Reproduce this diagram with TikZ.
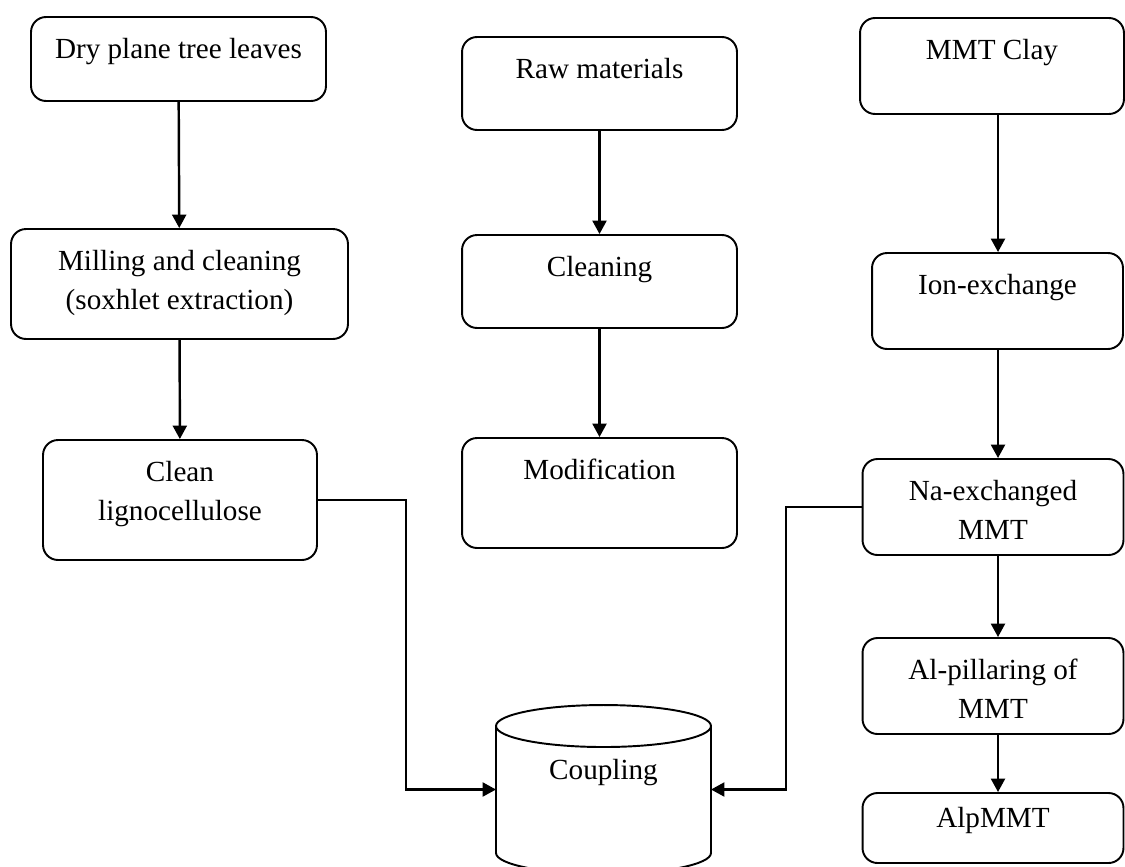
\documentclass[tikz,border=0pt]{standalone}
\usepackage{fontspec}
\setmainfont{Liberation Serif}
\usetikzlibrary{arrows.meta,positioning,shapes.geometric}

\begin{document}
\begin{tikzpicture}[
    x=0.02cm, y=-0.02cm,
    font=\fontsize{16.6}{22.2}\selectfont,
    box/.style={draw, line width=1.1pt, rounded corners=0.3cm},
    txt/.style={label={[anchor=north, inner sep=0pt, yshift=-0.44cm, align=center]north:#1}},
    arr/.style={line width=1.4pt, -{Triangle[length=0.27cm, width=0.28cm]}}
  ]
  \useasboundingbox (0,0) rectangle (1125,866);

  % plane tree leaves
  \node[box, minimum width=5.9cm, minimum height=1.68cm, txt={Dry plane tree leaves}] (dry) at (178.5,59) {};
  \node[box, minimum width=6.74cm, minimum height=2.2cm, txt={Milling and cleaning\\(soxhlet extraction)}] (mill) at (179.5,284) {};
  \node[box, minimum width=5.48cm, minimum height=2.4cm, txt={Clean\\lignocellulose}] (lig) at (180,500) {};

  % raw materials
  \node[box, minimum width=5.5cm, minimum height=1.86cm, txt={Raw materials}] (raw) at (599.5,83.5) {};
  \node[box, minimum width=5.5cm, minimum height=1.86cm, txt={Cleaning}] (cln) at (599.5,281.5) {};
  \node[box, minimum width=5.5cm, minimum height=2.2cm, txt={Modification}] (mod) at (599.5,493) {};

  % clay
  \node[box, minimum width=5.28cm, minimum height=1.92cm, txt={MMT Clay}] (clay) at (992,66) {};
  \node[box, minimum width=5.02cm, minimum height=1.92cm, txt={Ion-exchange}] (ion) at (997.5,301) {};
  \node[box, minimum width=5.22cm, minimum height=1.92cm, txt={Na-exchanged\\MMT}] (na) at (993,507) {};
  \node[box, minimum width=5.22cm, minimum height=1.92cm, txt={Al-pillaring of\\MMT}] (al) at (993,686) {};
  \node[box, minimum width=5.22cm, minimum height=1.4cm,
        label={[anchor=north, inner sep=0pt, yshift=-0.29cm]north:AlpMMT}] (alp) at (993,828) {};

  % coupling (drum)
  \node[outer sep=0pt, minimum width=4.3cm, minimum height=3.38cm,
        label={[anchor=north, inner sep=0pt, yshift=-1.08cm]north:Coupling}] (coup) at (603.5,789.5) {};
  \draw[line width=1.1pt] ([yshift=-0.42cm]coup.north) ellipse [x radius=2.15cm, y radius=0.42cm];
  \draw[line width=1.1pt] ([yshift=-0.42cm]coup.north west) -- ([yshift=0.42cm]coup.south west)
    arc[start angle=180, end angle=360, x radius=2.15cm, y radius=0.42cm]
    -- ([yshift=-0.42cm]coup.north east);

  \coordinate (rc) at (998,0);
  \coordinate (jl) at (406,0);
  \coordinate (jr) at (786,0);

  \draw[arr] (dry) -- (mill);
  \draw[arr] (mill) -- (lig);
  \draw[arr] (raw) -- (cln);
  \draw[arr] (cln) -- (mod);
  \draw[arr] (clay.south -| rc) -- (ion.north -| rc);
  \draw[arr] (ion.south -| rc) -- (na.north -| rc);
  \draw[arr] (na.south -| rc) -- (al.north -| rc);
  \draw[arr] (al.south -| rc) -- (alp.north -| rc);
  \draw[arr] (lig.east) -| (jl |- coup.west) -- (coup.west);
  \draw[arr] (na.west) -| (jr |- coup.east) -- (coup.east);
\end{tikzpicture}
\end{document}
